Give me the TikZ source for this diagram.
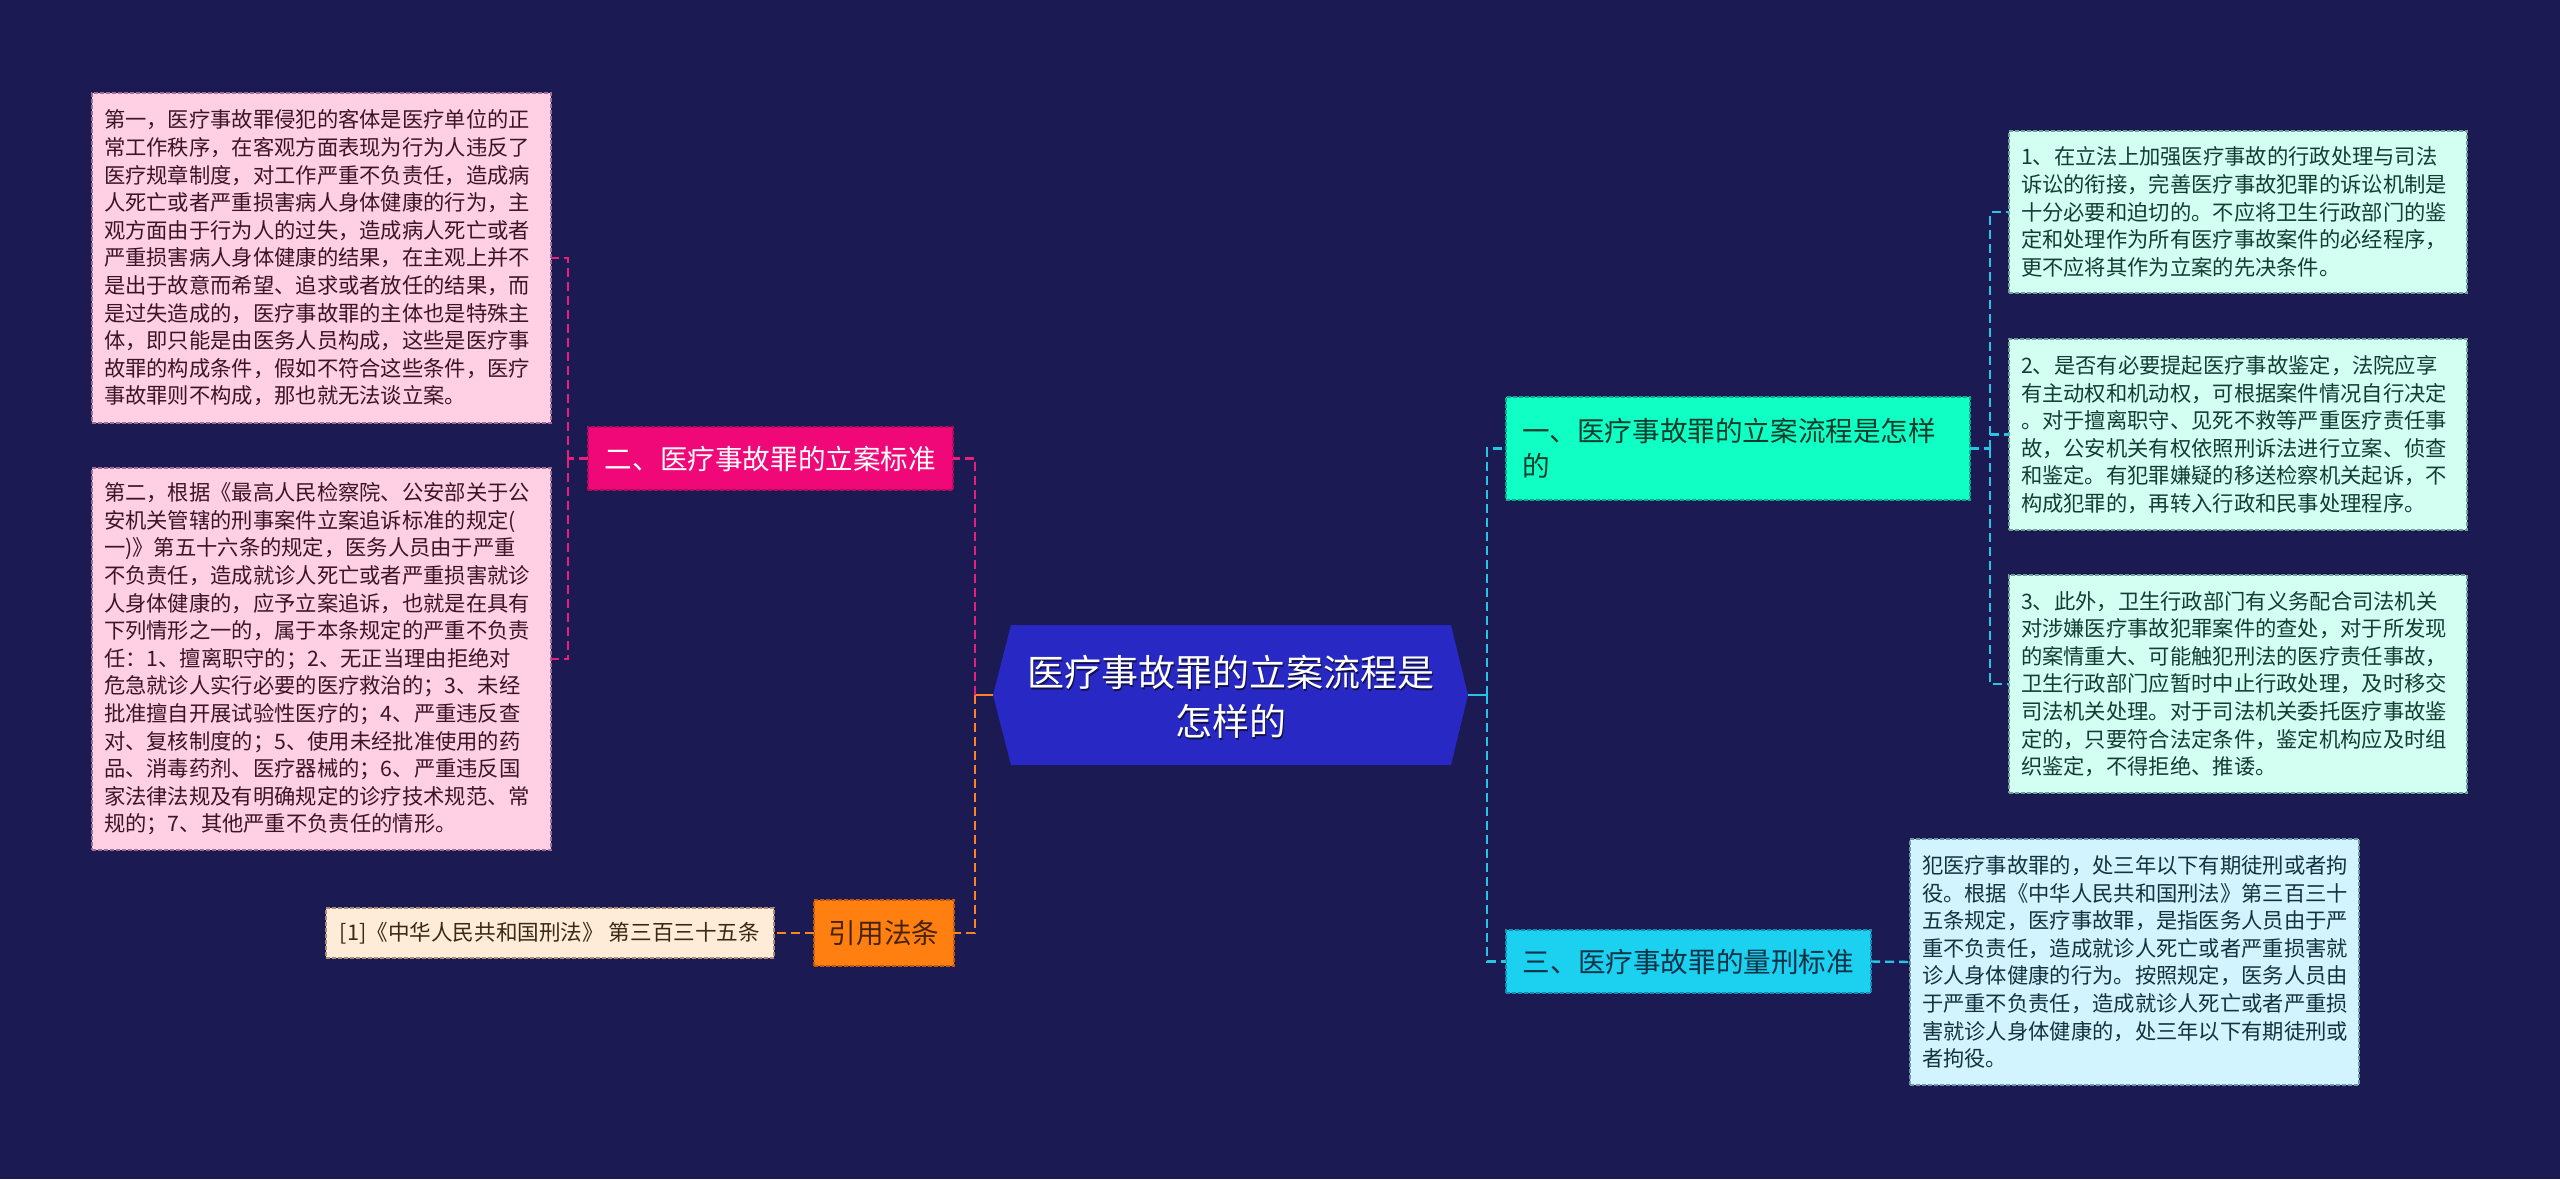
\documentclass[tikz,border=0pt]{standalone}
\usepackage{fontspec}
\newfontfamily\cjk{Noto Sans CJK SC}
\definecolor{bg}{RGB}{27,26,82}
\definecolor{cfill}{RGB}{40,40,196}
\definecolor{aqua}{RGB}{16,255,196}
\definecolor{aquaedge}{RGB}{10,170,140}
\definecolor{aquatext}{RGB}{12,60,44}
\definecolor{sky}{RGB}{28,208,240}
\definecolor{skyedge}{RGB}{20,140,180}
\definecolor{skytext}{RGB}{14,50,70}
\definecolor{mag}{RGB}{240,8,120}
\definecolor{magedge}{RGB}{180,10,90}
\definecolor{orng}{RGB}{255,128,16}
\definecolor{orngedge}{RGB}{190,90,10}
\definecolor{orngtext}{RGB}{70,35,10}
\definecolor{pinkleaf}{RGB}{255,208,228}
\definecolor{pinkedge}{RGB}{160,110,150}
\definecolor{pinktext}{RGB}{60,20,40}
\definecolor{mint}{RGB}{210,255,242}
\definecolor{mintedge}{RGB}{110,160,150}
\definecolor{minttext}{RGB}{20,60,50}
\definecolor{ice}{RGB}{210,244,255}
\definecolor{iceedge}{RGB}{110,150,170}
\definecolor{icetext}{RGB}{20,50,64}
\definecolor{cream}{RGB}{255,236,216}
\definecolor{creamedge}{RGB}{170,140,110}
\definecolor{creamtext}{RGB}{60,40,20}
\definecolor{lcyan}{RGB}{40,196,228}
\definecolor{lpink}{RGB}{236,30,124}
\definecolor{lorng}{RGB}{255,132,30}
\begin{document}
\begin{tikzpicture}[x=1pt,y=-1pt,
  box/.style={draw, dash pattern=on 4pt off 2pt, line width=1.2pt, inner ysep=0pt, outer sep=0pt},
  leaf/.style={box, anchor=north west, align=left, inner xsep=12pt,
    font=\cjk\fontsize{21.3}{27.6}\selectfont},
  branch/.style={box, anchor=north west, inner xsep=0pt,
    font=\cjk\fontsize{27.6}{35}\selectfont},
  conn/.style={line width=2.4pt, dash pattern=on 9pt off 5pt},
  solidconn/.style={line width=2.4pt},
]
\useasboundingbox (0,0) rectangle (2560,1179);
\fill[bg] (0,0) rectangle (2560,1179);

% central node
\node[minimum width=475pt, minimum height=140pt, inner sep=0pt, outer sep=0pt] (c) at (1230.5,695) {};
\fill[cfill] (c.west) -- ([xshift=18pt]c.north west) -- ([xshift=-17pt]c.north east) -- (c.east)
  -- ([xshift=-17pt]c.south east) -- ([xshift=18pt]c.south west) -- cycle;
\node[text=black!60!cfill, align=center, font=\cjk\fontsize{37}{49}\selectfont] (cs) at (1232,698.5) {医疗事故罪的立案流程是\\怎样的};
\node[text=white, align=center, font=\cjk\fontsize{37}{49}\selectfont] (ct) at (1230.5,697) {医疗事故罪的立案流程是\\怎样的};

% branch nodes
\node[branch, fill=aqua, draw=aquaedge, text=aquatext, minimum width=464pt, minimum height=103pt,
  text width=432pt, align=left, inner xsep=16pt] (b1) at (1506,397)
  {一、医疗事故罪的立案流程是怎样\\的};
\node[branch, fill=sky, draw=skyedge, text=skytext, minimum width=365pt, minimum height=63pt] (b3) at (1506,930)
  {三、医疗事故罪的量刑标准};
\node[branch, fill=mag, draw=magedge, text=white, minimum width=365pt, minimum height=63pt] (b2) at (588,427)
  {二、医疗事故罪的立案标准};
\node[branch, fill=orng, draw=orngedge, text=orngtext, minimum width=140pt, minimum height=66pt] (bref) at (814,900)
  {引用法条};

% leaves
\node[leaf, fill=pinkleaf, draw=pinkedge, text=pinktext, text width=435pt, minimum height=330pt] (p1) at (92,93)
  {第一，医疗事故罪侵犯的客体是医疗单位的正\\常工作秩序，在客观方面表现为行为人违反了\\医疗规章制度，对工作严重不负责任，造成病\\人死亡或者严重损害病人身体健康的行为，主\\观方面由于行为人的过失，造成病人死亡或者\\严重损害病人身体健康的结果，在主观上并不\\是出于故意而希望、追求或者放任的结果，而\\是过失造成的，医疗事故罪的主体也是特殊主\\体，即只能是由医务人员构成，这些是医疗事\\故罪的构成条件，假如不符合这些条件，医疗\\事故罪则不构成，那也就无法谈立案。};
\node[leaf, fill=pinkleaf, draw=pinkedge, text=pinktext, text width=435pt, minimum height=382pt] (p2) at (92,468)
  {第二，根据《最高人民检察院、公安部关于公\\安机关管辖的刑事案件立案追诉标准的规定(\\一)》第五十六条的规定，医务人员由于严重\\不负责任，造成就诊人死亡或者严重损害就诊\\人身体健康的，应予立案追诉，也就是在具有\\下列情形之一的，属于本条规定的严重不负责\\任：1、擅离职守的；2、无正当理由拒绝对\\危急就诊人实行必要的医疗救治的；3、未经\\批准擅自开展试验性医疗的；4、严重违反查\\对、复核制度的；5、使用未经批准使用的药\\品、消毒药剂、医疗器械的；6、严重违反国\\家法律法规及有明确规定的诊疗技术规范、常\\规的；7、其他严重不负责任的情形。};
\node[box, anchor=north west, fill=cream, draw=creamedge, text=creamtext, minimum width=448pt, minimum height=50pt,
  inner xsep=4pt, font=\cjk\fontsize{21.6}{26}\selectfont] (ref) at (326,908)
  {[1]《中华人民共和国刑法》 第三百三十五条};

\node[leaf, fill=mint, draw=mintedge, text=minttext, text width=434pt, minimum height=162pt] (r1) at (2009,131)
  {1、在立法上加强医疗事故的行政处理与司法\\诉讼的衔接，完善医疗事故犯罪的诉讼机制是\\十分必要和迫切的。不应将卫生行政部门的鉴\\定和处理作为所有医疗事故案件的必经程序，\\更不应将其作为立案的先决条件。};
\node[leaf, fill=mint, draw=mintedge, text=minttext, text width=434pt, minimum height=191pt] (r2) at (2009,339)
  {2、是否有必要提起医疗事故鉴定，法院应享\\有主动权和机动权，可根据案件情况自行决定\\。对于擅离职守、见死不救等严重医疗责任事\\故，公安机关有权依照刑诉法进行立案、侦查\\和鉴定。有犯罪嫌疑的移送检察机关起诉，不\\构成犯罪的，再转入行政和民事处理程序。};
\node[leaf, fill=mint, draw=mintedge, text=minttext, text width=434pt, minimum height=218pt] (r3) at (2009,575)
  {3、此外，卫生行政部门有义务配合司法机关\\对涉嫌医疗事故犯罪案件的查处，对于所发现\\的案情重大、可能触犯刑法的医疗责任事故，\\卫生行政部门应暂时中止行政处理，及时移交\\司法机关处理。对于司法机关委托医疗事故鉴\\定的，只要符合法定条件，鉴定机构应及时组\\织鉴定，不得拒绝、推诿。};
\node[leaf, fill=ice, draw=iceedge, text=icetext, text width=425pt, minimum height=246pt] (r4) at (1910,839)
  {犯医疗事故罪的，处三年以下有期徒刑或者拘\\役。根据《中华人民共和国刑法》第三百三十\\五条规定，医疗事故罪，是指医务人员由于严\\重不负责任，造成就诊人死亡或者严重损害就\\诊人身体健康的行为。按照规定，医务人员由\\于严重不负责任，造成就诊人死亡或者严重损\\害就诊人身体健康的，处三年以下有期徒刑或\\者拘役。};

% junction coordinates
\coordinate (rj) at (1487,695);
\coordinate (rj2) at (1990,448.5);
\coordinate (lj) at (975,695);
\coordinate (lj2) at (568,458.5);

% right connectors
\draw[solidconn, lcyan] (c.east) -- (rj);
\draw[conn, lcyan] (rj) |- (b1.west);
\draw[conn, lcyan] (rj) |- (b3.west);
\draw[conn, lcyan] (b1.east) -- (rj2);
\draw[conn, lcyan] (rj2) |- (r1.west);
\draw[conn, lcyan] (rj2) |- (r2.west);
\draw[conn, lcyan] (rj2) |- (r3.west);
\draw[conn, lcyan] (b3.east) -- (r4.west);

% left connectors
\draw[solidconn, lorng] (c.west) -- (lj);
\draw[conn, lpink] (lj) |- (b2.east);
\draw[conn, lorng] (lj) |- (bref.east);
\draw[conn, lpink] (b2.west) -- (lj2);
\draw[conn, lpink] (lj2) |- (p1.east);
\draw[conn, lpink] (lj2) |- (p2.east);
\draw[conn, lorng] (bref.west) -- (ref.east);
\end{tikzpicture}
\end{document}
